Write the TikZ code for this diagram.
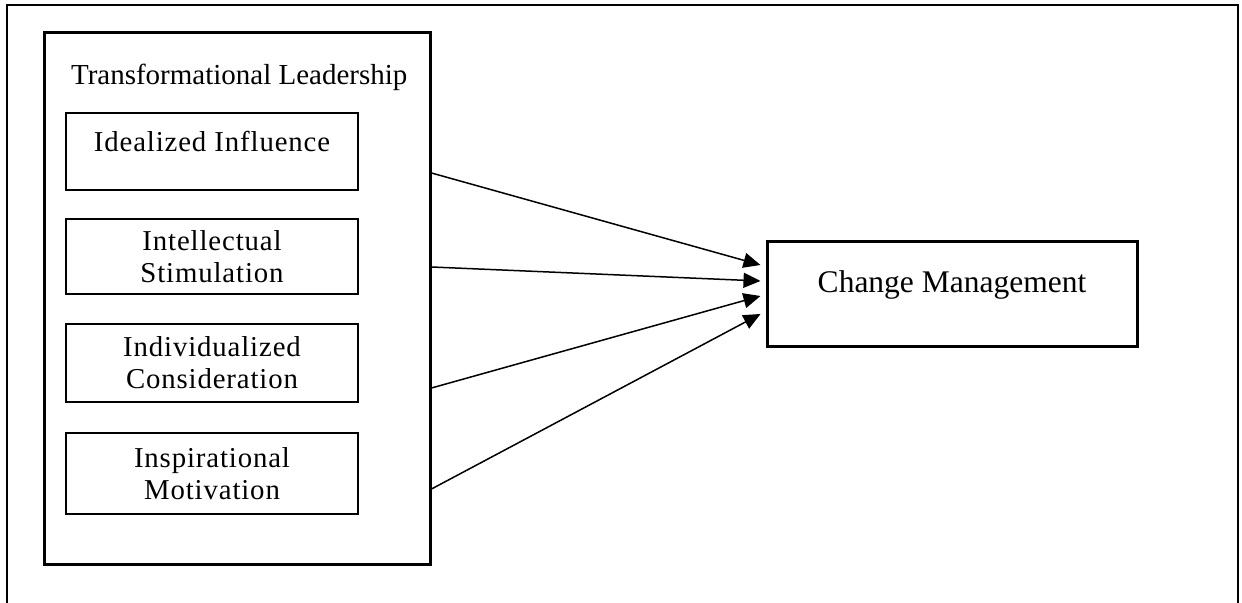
\documentclass[tikz,border=0pt]{standalone}
\usepackage{fontspec}
\setmainfont{Liberation Serif}
\newfontfamily\spacedfont[LetterSpace=3]{Liberation Serif}
\usetikzlibrary{arrows.meta}

\begin{document}
\begin{tikzpicture}[x=0.5pt,y=-0.5pt,
    dim/.style={draw,line width=1.2pt,minimum width=146pt,align=center,inner sep=0pt,
        font=\spacedfont\fontsize{14.4}{16}\selectfont},
    group/.style={draw,line width=1.5pt,minimum width=193pt,minimum height=266pt,inner sep=0pt},
    target/.style={draw,line width=1.5pt,minimum width=185pt,minimum height=52.5pt,inner sep=0pt,
        text height=10.7pt,text depth=12.2pt,font=\fontsize{15.75}{18}\selectfont},
    link/.style={-{Triangle[length=8.5pt,width=7.5pt]},line width=0.75pt}]
  \useasboundingbox (0,0) rectangle (1242,603);
  % open frame round the figure
  \draw[line width=1.3pt] (7,603) -- (7,5) -- (1238,5) -- (1238,603);
  % leadership group with its four dimensions
  \node[group] (tl) at (237,299) {};
  \node[anchor=west,font=\fontsize{14.5}{17}\selectfont] (tltitle) at (64,77) {Transformational Leadership};
  \node[dim,minimum height=38.5pt,text height=9.8pt,text depth=9.3pt] (ii) at (212,151.5) {Idealized Influence};
  \node[dim,minimum height=37.5pt] (is) at (212,256.5) {Intellectual\\Stimulation};
  \node[dim,minimum height=39pt] (ic) at (212,363) {Individualized\\Consideration};
  \node[dim,minimum height=40.5pt] (im) at (212,473.5) {Inspirational\\Motivation};
  % outcome
  \node[target] (cm) at (952,294.5) {Change Management};
  \draw[link] ([yshift=63pt]tl.east) -- ([xshift=-2.5pt,yshift=14.75pt]cm.west);
  \draw[link] ([yshift=16pt]tl.east) -- ([xshift=-2.5pt,yshift=6.75pt]cm.west);
  \draw[link] ([yshift=-44.5pt]tl.east) -- ([xshift=-2.5pt,yshift=-0.75pt]cm.west);
  \draw[link] ([yshift=-95pt]tl.east) -- ([xshift=-2.5pt,yshift=-9.75pt]cm.west);
\end{tikzpicture}
\end{document}
